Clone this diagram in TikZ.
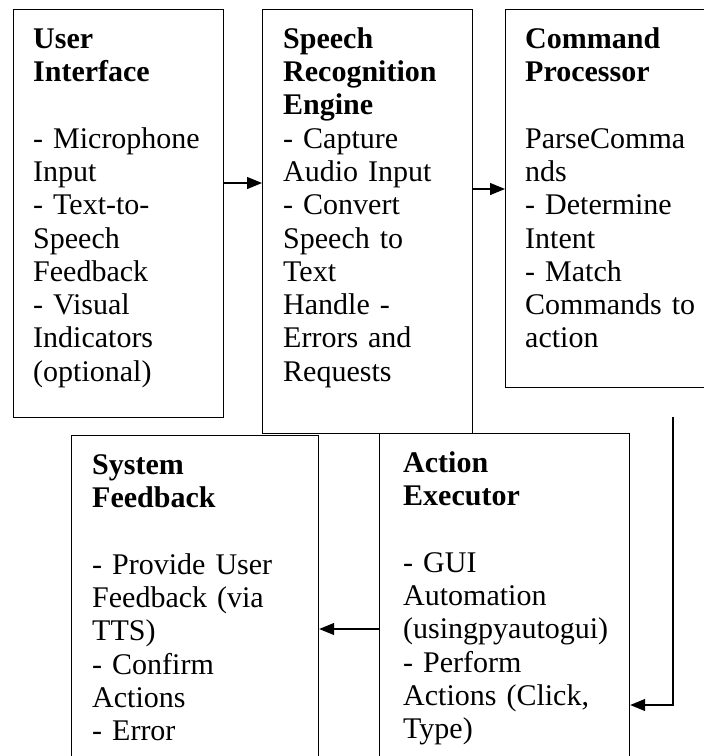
\documentclass[tikz,border=0pt]{standalone}
\usepackage{fontspec}
\setmainfont{Liberation Serif}
\usetikzlibrary{arrows.meta}
\tikzset{
  box/.style={draw, line width=1.2pt, rectangle, inner sep=0pt, anchor=north west},
  txt/.style={anchor=north west, inner sep=0pt, text width=260pt, align=left,
    font=\fontsize{30}{33.3}\selectfont},
  arr/.style={line width=1.2pt, -{Triangle[length=15pt,width=12pt]}},
}
\begin{document}
\begin{tikzpicture}[x=1pt,y=-1pt]
\useasboundingbox (0,0) rectangle (704,756);
% boxes
\node[box, minimum width=210pt, minimum height=408pt] (b1) at (13,9) {};
\node[box, minimum width=210pt, minimum height=424pt] (b2) at (262,9) {};
\node[box, minimum width=215pt, minimum height=378pt] (b3) at (505,9) {};
\node[box, minimum width=247pt, minimum height=340pt] (sf) at (71,435) {};
\node[box, minimum width=250pt, minimum height=342pt] (ae) at (379,433) {};
% texts
\node[txt] (t1) at (33,24) {\rule{0pt}{24pt}\textbf{User}\\ \textbf{Interface}\\[33.3pt]
 - Microphone\\ Input\\ - Text-to-\\ Speech\\ Feedback\\ - Visual\\ Indicators\\ (optional)};
\node[txt] (t2) at (283,24) {\rule{0pt}{24pt}\textbf{Speech}\\ \textbf{Recognition}\\ \textbf{Engine}\\
 - Capture\\ Audio Input\\ - Convert\\ Speech to\\ Text\\ Handle -\\ Errors and\\ Requests};
\node[txt] (t3) at (525,24) {\rule{0pt}{24pt}\textbf{Command}\\ \textbf{Processor}\\[33.3pt]
 ParseComma\\ nds\\ - Determine\\ Intent\\ - Match\\ Commands to\\ action};
\node[txt] (t4) at (92,450) {\rule{0pt}{24pt}\textbf{System}\\ \textbf{Feedback}\\[33.3pt]
 - Provide User\\ Feedback (via\\ TTS)\\ - Confirm\\ Actions\\ - Error};
\node[txt] (t5) at (403,448) {\rule{0pt}{24pt}\textbf{Action}\\ \textbf{Executor}\\[33.3pt]
 - GUI\\ Automation\\ (usingpyautogui)\\ - Perform\\ Actions (Click,\\ Type)};
% connectors
\coordinate (y1) at (0,183);
\coordinate (y2) at (0,189);
\coordinate (y4) at (0,629);
\coordinate (c3top) at (673,417);
\coordinate (c3bot) at (673,705);
\draw[arr] (b1.east |- y1) -- (b2.west |- y1);
\draw[arr] (b2.east |- y2) -- (b3.west |- y2);
\draw[arr] (c3top) -- (c3bot) -- (c3bot -| ae.east);
\draw[arr] (ae.west |- y4) -- (sf.east |- y4);
\end{tikzpicture}
\end{document}
